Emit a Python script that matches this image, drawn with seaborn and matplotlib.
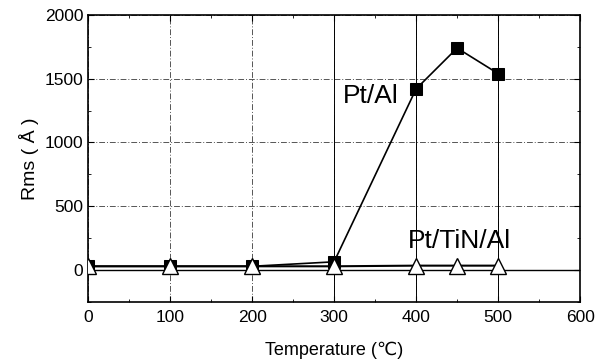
import matplotlib
matplotlib.use("Agg")
import matplotlib.pyplot as plt
import seaborn as sns
import pandas as pd
from matplotlib.ticker import MultipleLocator

temps = [0, 100, 200, 300, 400, 450, 500]
pt_al = [30, 30, 30, 65, 1420, 1740, 1540]
pt_tin_al = [30, 30, 30, 30, 35, 35, 35]
series = ["Pt/Al", "Pt/TiN/Al"]

df = pd.DataFrame({
    "T": temps * 2,
    "Rms": pt_al + pt_tin_al,
    "s": [series[0]] * len(temps) + [series[1]] * len(temps),
})

sns.set_style("ticks")
plt.rcParams['font.family'] = ['Liberation Sans', 'DejaVu Sans']
plt.rcParams['text.color'] = 'black'
plt.rcParams['axes.labelcolor'] = 'black'
plt.rcParams['xtick.color'] = 'black'
plt.rcParams['ytick.color'] = 'black'

fig = plt.figure(figsize=(5.95, 3.63), dpi=100)
ax = fig.add_axes([0.148, 0.168, 0.827, 0.791])

ax.set_xlim(0, 600)
ax.set_ylim(-250, 2000)
ax.xaxis.set_major_locator(MultipleLocator(100))
ax.xaxis.set_minor_locator(MultipleLocator(50))
ax.yaxis.set_major_locator(MultipleLocator(500))
ax.yaxis.set_minor_locator(MultipleLocator(250))
ax.grid(True, which="major", color="#555555", linewidth=0.7, linestyle=(0, (6, 2, 1, 2)))
ax.axhline(0, color="black", lw=1.0, zorder=1)
for v in [300, 400, 500]:
    ax.axvline(v, color="black", lw=0.7, zorder=1)
ax.set_axisbelow(True)

sns.lineplot(data=df[df.s == series[0]], x="T", y="Rms", ax=ax, color="black",
             marker="s", markersize=8.5, markerfacecolor="black", markeredgecolor="black",
             lw=1.2, legend=False, zorder=4)
sns.lineplot(data=df[df.s == series[1]], x="T", y="Rms", ax=ax, color="black",
             marker="^", markersize=11, markerfacecolor="white", markeredgecolor="black",
             markeredgewidth=1.0, lw=1.5, legend=False, zorder=5)

ax.tick_params(which="both", direction="in", top=True, right=True, labelsize=12.5, color="black")
ax.tick_params(which="major", length=4)
ax.tick_params(which="minor", length=2.5)
ax.tick_params(axis="x", pad=6)
for s in ax.spines.values():
    s.set_color("black")
    s.set_linewidth(1.2)

ax.set_xlabel("Temperature (℃)", fontsize=13, labelpad=12)
ax.set_ylabel("Rms ( Å )", fontsize=14)

ax.text(311, 1310, "Pt/Al", fontsize=19)
ax.text(390, 172, "Pt/TiN/Al", fontsize=19)

fig.savefig("out.png", dpi=100)
